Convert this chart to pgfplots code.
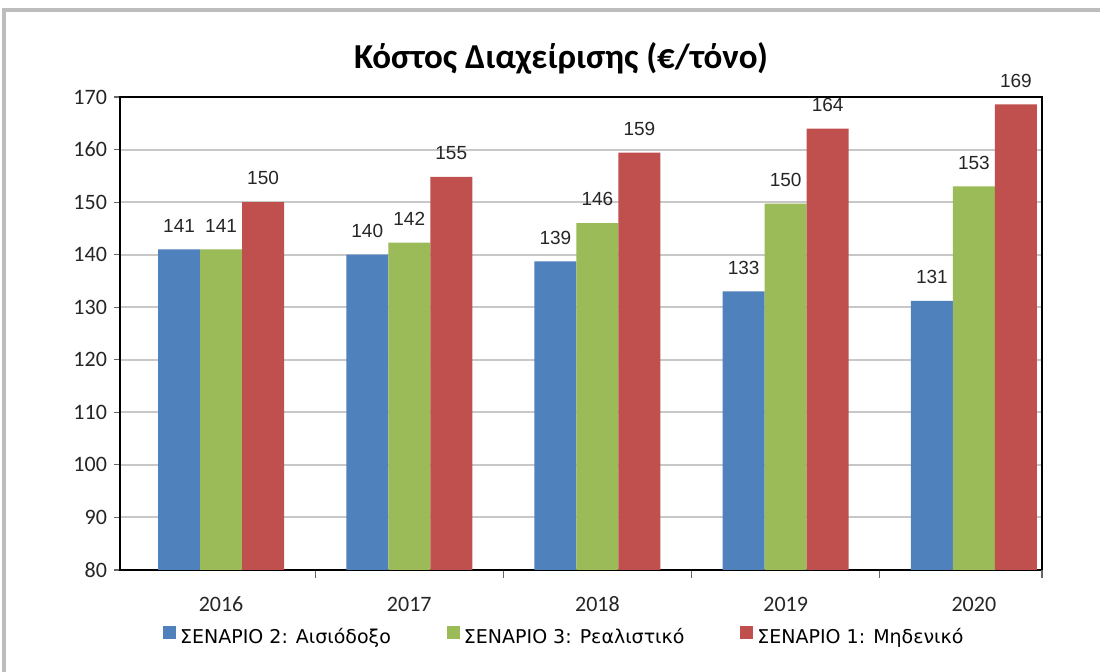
\documentclass[border=0pt]{standalone}
\usepackage{pgfplots}
\pgfplotsset{compat=1.18}
\usepackage{fontspec}
\setmainfont{Carlito}
\newfontfamily\legfont{DejaVu Sans}
\newfontfamily\labfont{Liberation Sans}
\definecolor{sc2}{HTML}{4F81BD}
\definecolor{sc3}{HTML}{9BBB59}
\definecolor{sc1}{HTML}{C0504D}
\definecolor{gridc}{HTML}{C8C8C8}
\definecolor{framec}{HTML}{BDBDBD}

\begin{document}
\begin{tikzpicture}[x=1pt,y=1pt]
	% page box: 1100x672 px at 0.5pt per px, axis corner at (120px,570px)
	\path[use as bounding box, fill=white] (-60,-51) rectangle (490,285);
	\draw[framec, line width=2pt] (-58,-60) rectangle (500,280);
	\begin{axis}[
		at={(0,0)}, anchor=south west,
		scale only axis,
		width=461pt, height=236.5pt,
		ybar=0pt, bar width=21pt,
		xmin=-0.537, xmax=4.362,
		ymin=80, ymax=170,
		ytick={80,90,...,170},
		xtick={0,1,2,3,4},
		xticklabels={2016,2017,2018,2019,2020},
		minor xtick={0.5,1.5,2.5,3.5},
		extra x ticks={4.362},
		extra x tick labels={},
		extra x tick style={major tick length=4pt, major x tick style={draw=gray!80!black}},
		major x tick style={draw=none},
		xtick pos=bottom, ytick pos=left,
		minor tick length=4pt,
		major tick length=3pt,
		tick align=outside,
		tick style={gray!80!black, line width=0.6pt},
		axis line style={black, line width=0.8pt},
		ymajorgrids=true,
		grid style={gridc, line width=1pt},
		/pgf/number format/assume math mode=true,
		ticklabel style={font=\fontsize{11}{13}\selectfont, text=black!85},
		xticklabel style={yshift=-6pt, text height=8pt, text depth=0pt},
		title={\textbf{Κόστος Διαχείρισης (€/τόνο)}},
		title style={font=\fontsize{17.5}{20}\selectfont, yshift=2pt, xshift=-10pt},
		nodes near coords,
		nodes near coords style={font=\labfont\fontsize{9.5}{11}\selectfont, text=black!85,
			/pgf/number format/fixed, /pgf/number format/precision=0, yshift=5pt},
		legend style={draw=none, font=\legfont\fontsize{9.5}{11}\selectfont,
			at={(0.483,-0.143)}, anchor=center, legend columns=3,
			/tikz/every even column/.append style={column sep=26pt}},
		legend image code/.code={\fill[#1] (0pt,-0.5pt) rectangle (6.5pt,6pt);},
	]
		\addplot[fill=sc2, draw=none] coordinates {(0,141) (1,140) (2,138.7) (3,133) (4,131.2)};
		\addplot[fill=sc3, draw=none] coordinates {(0,141) (1,142.3) (2,146) (3,149.7) (4,153)};
		\addplot[fill=sc1, draw=none] coordinates {(0,150) (1,154.8) (2,159.4) (3,164) (4,168.6)};
		\legend{ΣΕΝΑΡΙΟ 2: Αισιόδοξο, ΣΕΝΑΡΙΟ 3: Ρεαλιστικό, ΣΕΝΑΡΙΟ 1: Μηδενικό}
	\end{axis}
\end{tikzpicture}
\end{document}
